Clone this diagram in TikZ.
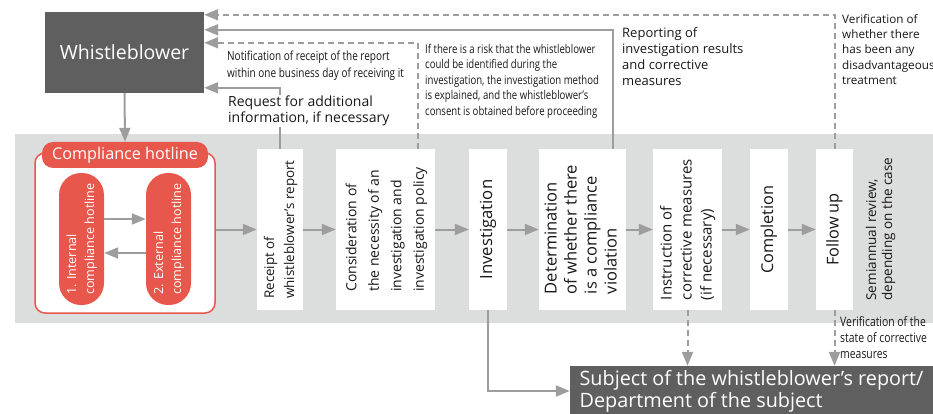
\documentclass[tikz,border=0pt]{standalone}
\usepackage{fontspec}
\setmainfont{Open Sans}
\newfontfamily\condfont[FakeStretch=0.8]{Open Sans}
\usetikzlibrary{arrows.meta, positioning}

\definecolor{wbgray}{HTML}{5F5F5F}
\definecolor{bandgray}{HTML}{DCDDDD}
\definecolor{linegray}{HTML}{9D9D9D}
\definecolor{hotred}{HTML}{E8574B}
\definecolor{txt}{HTML}{1A1718}

\newcommand{\uptext}[1]{\rotatebox{90}{\begin{tabular}{@{}l@{}}#1\end{tabular}}}
\newcommand{\fs}[2]{\fontsize{#1}{#2}\selectfont}

\begin{document}
\begin{tikzpicture}[x=1pt, y=-1pt,
  every node/.style = {text=txt},
  darkbox/.style  = {fill=wbgray, text=white, inner sep=0pt},
  stagebox/.style = {fill=white, inner sep=0pt,
                     minimum width=#1, minimum height=161pt},
  pill/.style = {fill=hotred, text=white, rounded corners=22pt,
                 minimum width=45pt, minimum height=132pt,
                 inner sep=0pt, font=\fs{12.6}{18}},
  note/.style = {anchor=north west, inner sep=0pt, align=left},
  arr/.style = {-{Triangle[length=14pt, width=11pt]}, line width=2pt, draw=linegray},
  dasharr/.style = {arr, dash pattern=on 6pt off 4pt},
]
\useasboundingbox (0,0) rectangle (933,414);

%% ══ BAND ═══════════════════════════════════════════════════════════════
\fill[bandgray] (15,134) rectangle (933,323);

%% ══ WHISTLEBLOWER ══════════════════════════════════════════════════════
\node[darkbox, minimum width=159pt, minimum height=81pt, font=\fs{19.5}{22}]
  (wb) at (124.5,52.5) {Whistleblower};

%% ══ COMPLIANCE HOTLINE ═════════════════════════════════════════════════
\node[draw=hotred, line width=1.5pt, fill=white, rounded corners=10pt,
      minimum width=180pt, minimum height=160pt] (hot) at (125,233) {};
\node[fill=hotred, text=white, rounded corners=11pt, inner sep=0pt,
      minimum width=166pt, minimum height=26pt, font=\fs{16.2}{18}]
  (hottitle) at (125,155) {Compliance hotline};

\node[pill] (inthot) at (81.5,239)  {\uptext{1. Internal\\compliance hotline}};
\node[pill] (exthot) at (168.5,239) {\uptext{2. External\\compliance hotline}};

\draw[arr] ([yshift=20pt]inthot.east)  -- ([yshift=20pt]exthot.west);
\draw[arr] ([yshift=-14pt]exthot.west) -- ([yshift=-14pt]inthot.east);

%% ══ STAGES ═════════════════════════════════════════════════════════════
\node[stagebox=46pt, font=\fs{13.4}{20}] (rec) at (280,229.5)
  {\uptext{Receipt of\\whistleblower’s report}};
\node[stagebox=99pt, font=\fs{14}{22.5}] (cons) at (385.5,229.5)
  {\uptext{Consideration of\\the necessity of an\\investigation and\\investigation policy}};
\node[stagebox=38pt, font=\fs{16.7}{20}] (inv) at (488,229.5)
  {\uptext{Investigation}};
\node[stagebox=87pt, font=\fs{16.5}{20}] (det) at (582.5,229.5)
  {\uptext{Determination\\of whether there\\is a compliance\\violation}};
\node[stagebox=69pt, font=\fs{15}{20}] (instr) at (687.5,229.5)
  {\uptext{Instruction of\\corrective measures\\(if necessary)}};
\node[stagebox=38pt, font=\fs{16.3}{20}] (compl) at (769,229.5)
  {\uptext{Completion}};
\node[stagebox=37pt, font=\fs{16.3}{20}] (follow) at (834.5,229.5)
  {\uptext{Follow up}};
\node[inner sep=0pt, font=\fs{13.5}{16}] (semi) at (881,229)
  {\uptext{Semiannual review,\\depending on the case}};

\draw[arr] (wb.south) -- (hottitle.north);
\draw[arr] (hot.east |- rec.west) -- (rec.west);
\draw[arr] (rec)   -- (cons);
\draw[arr] (cons)  -- (inv);
\draw[arr] (inv)   -- (det);
\draw[arr] (det)   -- (instr);
\draw[arr] (instr) -- (compl);
\draw[arr] (compl) -- (follow);

%% ══ SUBJECT ════════════════════════════════════════════════════════════
\node[darkbox, minimum width=363pt, minimum height=50pt, align=left,
      font=\fs{19.8}{22}] (subj) at (751.5,391)
  {Subject of the whistleblower’s report/\\Department of the subject};

%% ── feedback to the whistleblower ─────────────────────────────────────
\draw[dasharr] (follow.north) |- ([yshift=-3pt]wb.north east);
\draw[arr] ([xshift=30.5pt]det.north) |- ([yshift=-18pt]wb.north east);
\draw[dasharr] ([xshift=32.5pt]cons.north) |- ([yshift=-31pt]wb.north east);
\draw[arr] (rec.north) |- ([yshift=-76pt]wb.north east);

%% ── down to the subject ───────────────────────────────────────────────
\draw[arr] (inv.south) |- (subj.west);
\draw[dasharr] (instr.south)  -- (instr.south |- subj.north);
\draw[dasharr] (follow.south) -- (follow.south |- subj.north);

%% ══ LABELS ═════════════════════════════════════════════════════════════
\node[note, font=\condfont\fs{12.5}{17}] (notif) at (227,51)
  {Notification of receipt of the report\\within one business day of receiving it};
\node[note, fill=white, inner sep=1pt, font=\fs{14}{16}] (askinfo) at (227,95)
  {Request for additional\\information, if necessary};
\node[note, font=\condfont\fs{12}{15.5}] (risk) at (425,44)
  {If there is a risk that the whistleblower\\could be identified during the\\investigation, the investigation method\\is explained, and the whistleblower’s\\consent is obtained before proceeding};
\node[note, font=\fs{13}{16}] (replabel) at (622,27)
  {Reporting of\\investigation results\\and corrective\\measures};
\node[note, font=\fs{11.7}{15.3}] (verlabel) at (842,14)
  {Verification of\\whether there\\has been any\\disadvantageous\\treatment};
\node[note, font=\condfont\fs{13}{16}] (statelabel) at (840,316)
  {Verification of the\\state of corrective\\measures};

\end{tikzpicture}
\end{document}
